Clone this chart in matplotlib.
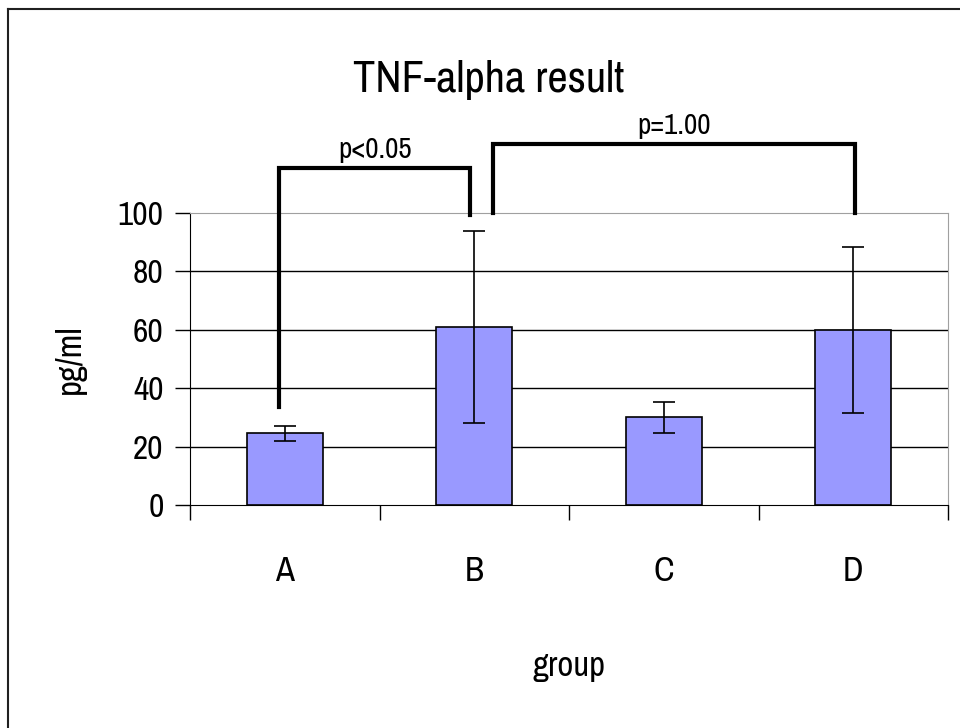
import numpy as np
import matplotlib
matplotlib.use("Agg")
import matplotlib.pyplot as plt
from matplotlib import font_manager as fm
from matplotlib.lines import Line2D

# data
groups = ['A', 'B', 'C', 'D']
means = [24.5, 61.0, 30.0, 60.0]
errs = [2.5, 33.0, 5.3, 28.5]

# significance brackets: (left x, right x, top, left foot, right foot, label)
brackets = [
    (-0.03, 0.98, 115.5, 33.5, 99.3, 'p<0.05'),
    (1.10, 3.01, 123.6, 100.0, 100.0, 'p=1.00'),
]

# the original uses a narrow font; take a condensed face if one is installed
narrow = [f for f in fm.fontManager.ttflist
          if ('Narrow' in f.name or 'Condensed' in f.name or 'condensed' in str(f.stretch))
          and f.style == 'normal' and f.weight in (400, 'normal', 'regular')]
if narrow:
    narrow.sort(key=lambda f: ('Narrow' not in f.name, f.name))
    fp = fm.FontProperties(fname=narrow[0].fname)
    plt.rcParams['font.family'] = [fp.get_name(), 'DejaVu Sans']
    plt.rcParams['font.stretch'] = narrow[0].stretch
else:
    plt.rcParams['font.family'] = ['Liberation Sans', 'DejaVu Sans']

fig = plt.figure(figsize=(9.6, 7.28), dpi=100)
ax = fig.add_axes([190/960, 1 - 505/728, 758/960, 292/728])

x = np.arange(len(groups))
ax.bar(x, means, width=0.4, color='#9999FF', edgecolor='black', linewidth=1.2, zorder=3)
ax.errorbar(x, means, yerr=errs, fmt='none', ecolor='black', elinewidth=1.2,
            capsize=8, capthick=1.2, zorder=4)

ax.set_xlim(-0.5, 3.5)
ax.set_ylim(0, 100)
ax.set_yticks(np.arange(0, 101, 20))
for v in range(20, 100, 20):
    ax.axhline(v, color='black', linewidth=1, zorder=1)

ax.set_xticks(x)
ax.set_xticklabels(groups, fontsize=25)
ax.tick_params(axis='x', which='major', length=0, pad=36)
ax.set_xticks(np.arange(-0.5, 3.6, 1.0), minor=True)
ax.tick_params(axis='x', which='minor', length=11, width=1, direction='out')
ax.tick_params(axis='y', length=11, width=1, labelsize=24, pad=8)

ax.spines['top'].set_color('#A0A0A0')
ax.spines['right'].set_color('#A0A0A0')
ax.spines['left'].set_color('black')
ax.spines['bottom'].set_color('black')

ax.set_xlabel('group', fontsize=25, labelpad=45)
ax.set_ylabel('pg/ml', fontsize=25, labelpad=23)

for x0, x1, top, f0, f1, lab in brackets:
    ax.plot([x0, x0, x1, x1], [f0, top, top, f1], color='black', linewidth=3,
            clip_on=False, zorder=5, solid_joinstyle='miter')
    ax.text((x0 + x1) / 2, top + 3.5, lab, ha='center', va='baseline', fontsize=21)

fig.text(489/960, 1 - 92/728, 'TNF-alpha result', ha='center', va='baseline', fontsize=32)

# frame around the chart (left and top edges visible)
fig.add_artist(Line2D([8/960, 8/960], [0, 1 - 9/728], color='#202020', linewidth=1.5,
                      transform=fig.transFigure))
fig.add_artist(Line2D([8/960, 1], [1 - 9/728, 1 - 9/728], color='#202020', linewidth=1.5,
                      transform=fig.transFigure))

fig.savefig('out.png', dpi=100)
